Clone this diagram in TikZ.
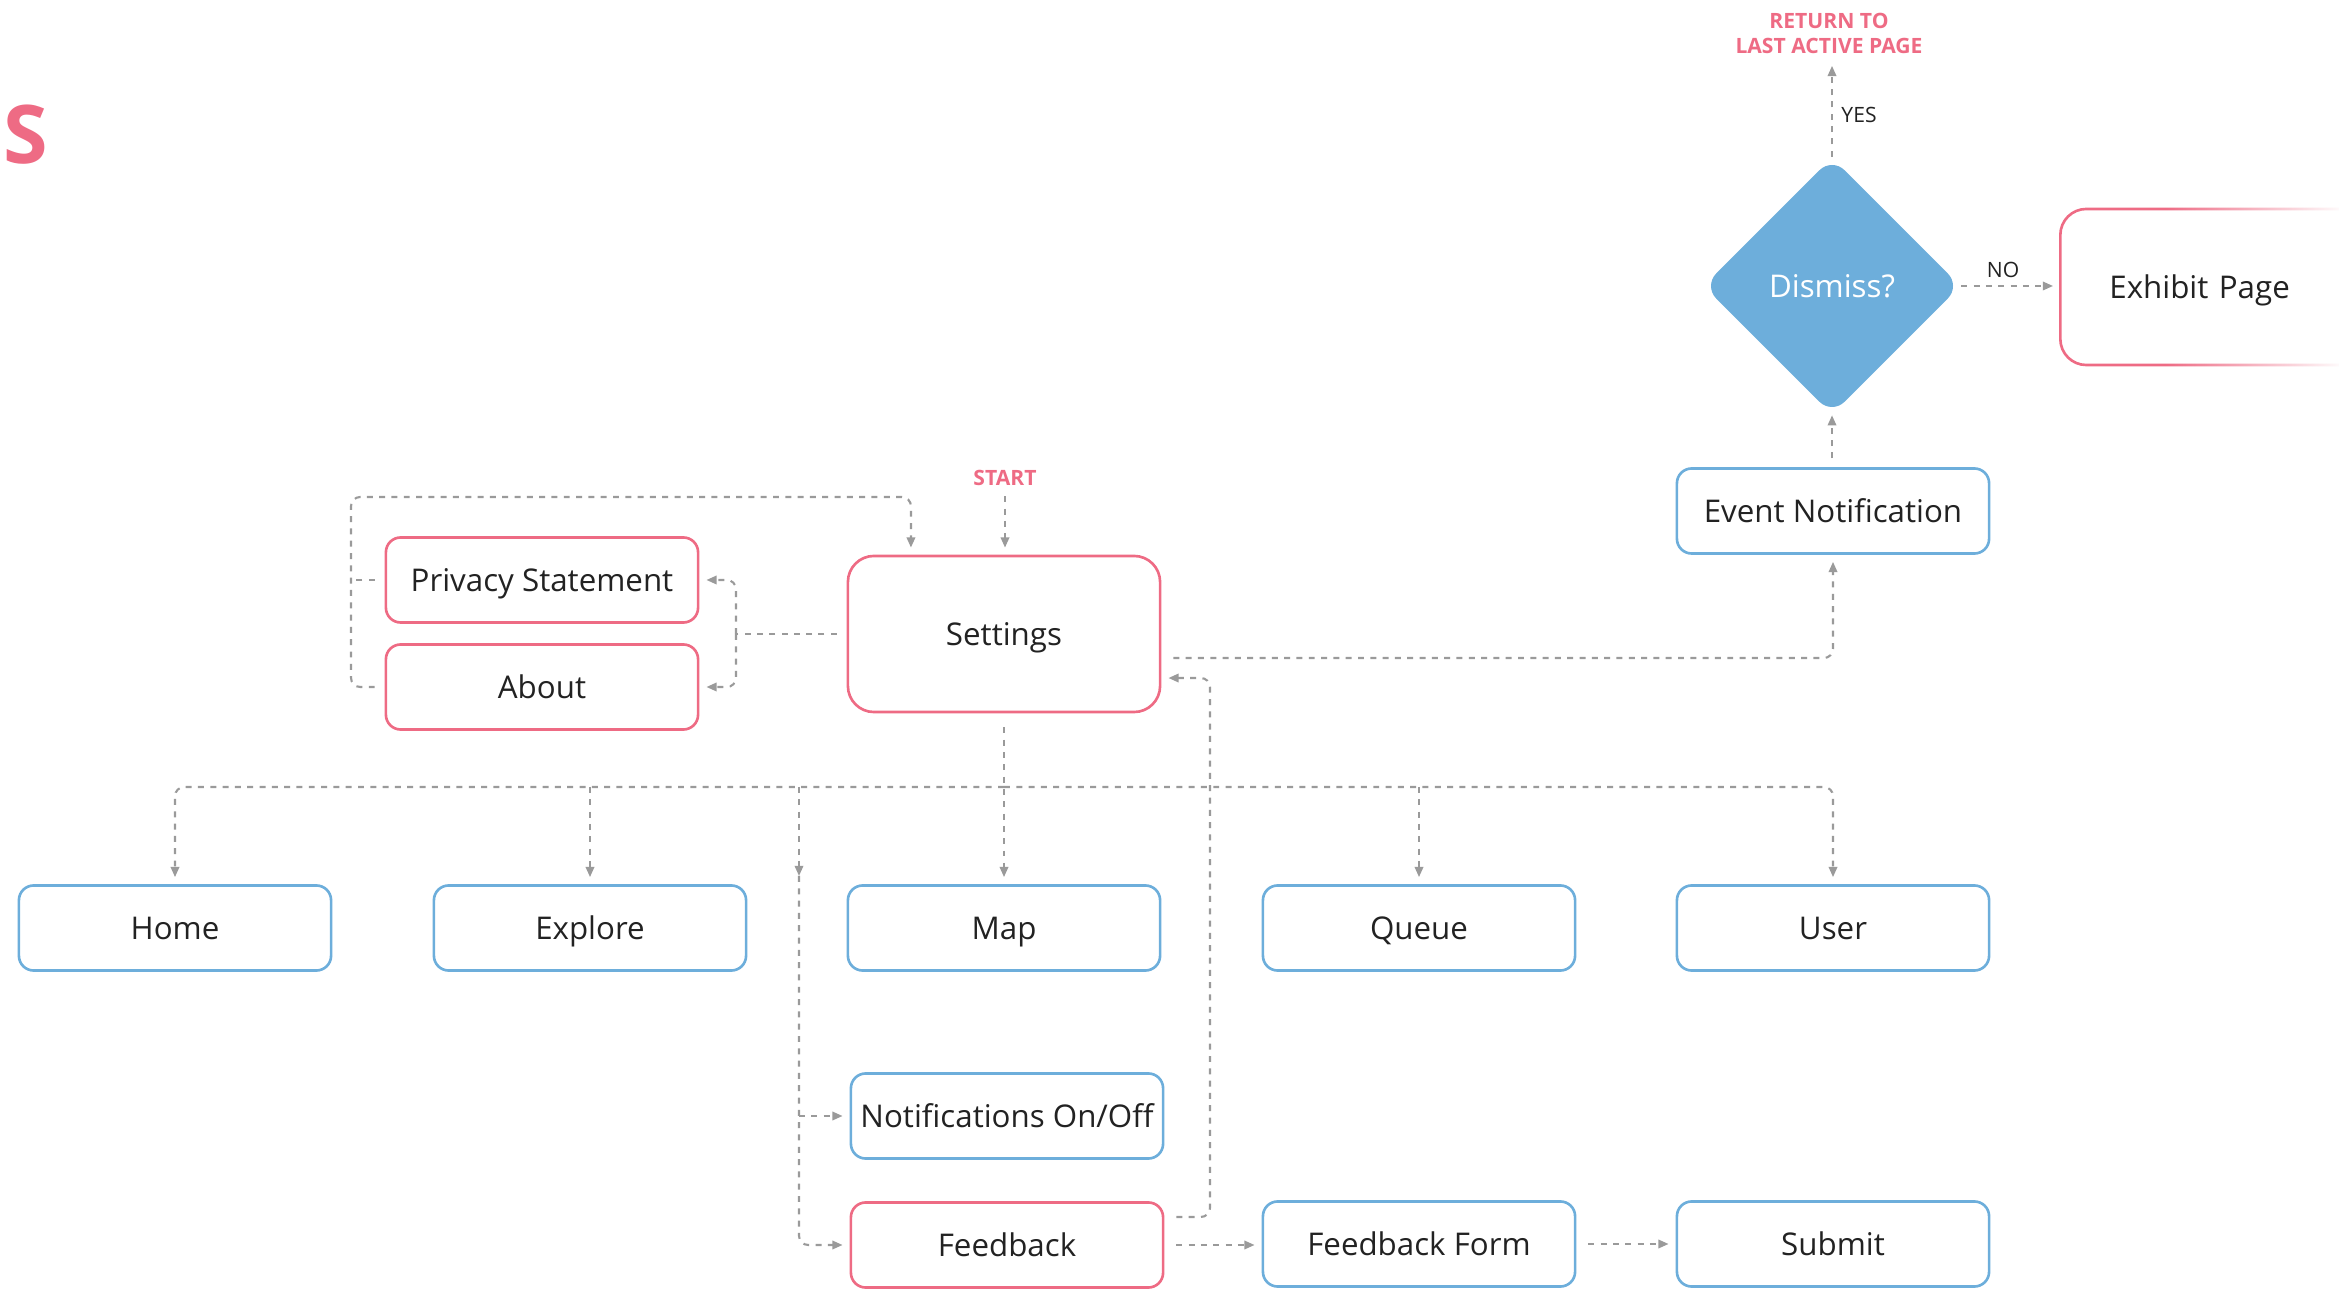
\documentclass[tikz,border=0pt]{standalone}
\usepackage{fontspec}
\setmainfont{Open Sans}
\usetikzlibrary{arrows.meta,shapes.geometric,fadings,calc}
\definecolor{pinkc}{HTML}{EE6B84}
\definecolor{bluec}{HTML}{6DAEDB}
\definecolor{linec}{HTML}{9A9A9A}
\definecolor{txtc}{HTML}{222222}
\tikzfading[name=fadetoright, left color=transparent!100, right color=transparent!0]
\begin{document}
\begin{tikzpicture}[x=0.01cm, y=-0.01cm,
  boxbase/.style={draw, rounded corners=4.2pt, line width=0.75pt, minimum width=3.12cm, minimum height=0.85cm, inner sep=0pt, text height=6.35pt, text depth=0pt, text=txtc, font=\fontsize{8.9}{10}\selectfont},
  bluebox/.style={boxbase, draw=bluec},
  pinkbox/.style={boxbase, draw=pinkc},
  conn/.style={draw=linec, line width=0.6pt, dash pattern=on 1.7pt off 1.8pt, -{Triangle[length=2.9pt,width=2.4pt]}, shorten >=2pt},
  plainline/.style={draw=linec, line width=0.6pt, dash pattern=on 1.7pt off 1.8pt},
  lbl/.style={font=\fontsize{6}{7}\selectfont, text=txtc, inner sep=0pt},
  pinklbl/.style={font=\bfseries\fontsize{6}{7.1}\selectfont, text=pinkc, inner sep=0pt, align=center},
]
\useasboundingbox (0,0) rectangle (2339,1292);

% title letter
\node[anchor=base west, inner sep=0pt, text=pinkc, font=\bfseries\fontsize{23}{26}\selectfont] (title) at (3,164) {S};

% nodes
\node[pinkbox] (privacy) at (542,580) {Privacy Statement};
\node[pinkbox] (about) at (542,687) {About};
\node[pinkbox, minimum height=1.56cm, rounded corners=7.4pt] (settings) at (1004,634) {Settings};
\node[bluebox] (event) at (1833,511) {Event Notification};
\node[bluebox] (home) at (175,928) {Home};
\node[bluebox] (explore) at (590,928) {Explore};
\node[bluebox] (map) at (1004,928) {Map};
\node[bluebox] (queue) at (1419,928) {Queue};
\node[bluebox] (user) at (1833,928) {User};
\node[bluebox] (notif) at (1007,1116) {Notifications On/Off};
\node[pinkbox] (feedback) at (1007,1245) {Feedback};
\node[bluebox] (fform) at (1419,1244) {Feedback Form};
\node[bluebox] (submit) at (1833,1244) {Submit};
\node[diamond, aspect=1, fill=bluec, rounded corners=5pt, minimum width=2.57cm, minimum height=2.57cm, inner sep=0pt, text height=6.35pt, text depth=0pt, text=white, font=\fontsize{8.9}{10}\selectfont] (dismiss) at (1832,286) {Dismiss?};
\node[pinkbox, anchor=west, minimum height=1.56cm, rounded corners=7.4pt, text width=3.4cm, align=left, inner xsep=0.49cm] (exhibit) at (2059,287) {Exhibit Page};
% fading of the exhibit box border towards the right edge
\fill[white, path fading=fadetoright] (2165,200) rectangle (2345,218);
\fill[white, path fading=fadetoright] (2165,356) rectangle (2345,374);

% labels
\node[pinklbl] (start) at (1005,478) {START};
\node[pinklbl] (ret) at (1829,33) {RETURN TO\\LAST ACTIVE PAGE};
\node[lbl] (yes) at (1859,115) {YES};
\node[lbl] (no) at (2003,270) {NO};

% connectors
\draw[conn, shorten <=2.8pt] (start.south) -- (start.south |- settings.north);

\coordinate (jl) at (736,634);
\draw[plainline, shorten <=2.8pt] (settings.west) -- (jl);
\draw[conn, rounded corners=2.6pt] (jl) |- (privacy.east);
\draw[conn, rounded corners=2.6pt] (jl) |- (about.east);

\coordinate (lx) at (351,497);
\draw[conn, rounded corners=2.6pt, shorten <=2.8pt] (about.west) -| (lx) -| ([xshift=-0.93cm]settings.north);
\draw[plainline, shorten <=2.8pt] (privacy.west) -- (privacy.west -| lx);

\draw[conn, rounded corners=2.6pt, shorten <=3.4pt] ([yshift=-0.24cm]settings.east) -| (event.south);

\coordinate (fb) at (1210,678);
\draw[conn, rounded corners=2.6pt, shorten <=3.4pt] ([yshift=0.28cm]feedback.east) -| (fb) -- ([yshift=-0.44cm]settings.east);

\draw[conn, shorten <=4pt] (settings.south) -- (map.north);
\coordinate (bus) at (1004,787);
\draw[conn, rounded corners=2.6pt] (bus) -| (home.north);
\draw[conn, rounded corners=2.6pt] (bus) -| (user.north);
\draw[conn] (bus -| explore.north) -- (explore.north);
\draw[conn] (bus -| queue.north) -- (queue.north);

\coordinate (nb) at (799,787);
\coordinate (nm) at (799,876);
\draw[conn, shorten >=0pt] (nb) -- (nm);
\draw[conn, rounded corners=2.6pt] (nm) |- (feedback.west);
\draw[conn] (nm |- notif.west) -- (notif.west);

\draw[conn, shorten <=3.4pt] (feedback.east) -- (feedback.east -| fform.west);
\draw[conn, shorten <=3.4pt] (fform.east) -- (fform.east -| submit.west);

\draw[conn, shorten <=2.5pt, shorten >=0pt] (dismiss.south |- event.north) -- (dismiss.south);
\draw[conn, shorten <=0pt, shorten >=3.4pt] (dismiss.north) -- (dismiss.north |- ret.south);
\draw[conn, shorten <=0pt, shorten >=1.7pt] (dismiss.east) -- (dismiss.east -| exhibit.west);
\end{tikzpicture}
\end{document}
